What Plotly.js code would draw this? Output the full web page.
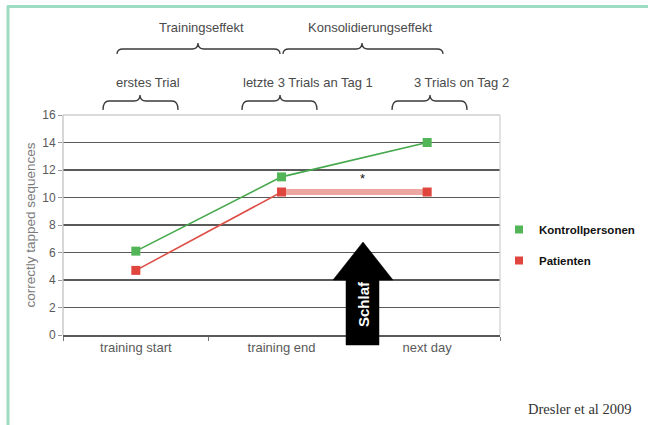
<!DOCTYPE html>
<html>
<head>
<meta charset="utf-8">
<script src="https://cdn.plot.ly/plotly-3.0.1.min.js"></script>
<style>
  html, body { margin: 0; padding: 0; background: #fff; }
  #chart { width: 648px; height: 425px; }
</style>
</head>
<body>
<div id="chart"></div>
<script>
// Sequence tapping performance, controls vs. patients
const phases = ['training start', 'training end', 'next day'];
const seriesNames = ['Kontrollpersonen', 'Patienten'];
const kontrollpersonen = [6.1, 11.5, 14.0];
const patienten = [4.7, 10.4, 10.4];
const yTicks = [0, 2, 4, 6, 8, 10, 12, 14, 16];

const W = 648, H = 425;
const M = { l: 63, r: 148, t: 115, b: 90, autoexpand: false };
const PW = W - M.l - M.r, PH = H - M.t - M.b;
// pixel position -> paper coordinates
const px = x => (x - M.l) / PW;
const py = y => (H - M.b - y) / PH;

const FONT = 'Liberation Sans, Arial, sans-serif';
const GREEN = '#45a84c', GREEN_M = '#52b557';
const RED = '#dd4f47', RED_M = '#e0463e', RED_PALE = '#eca7a1';

const traces = [
  {
    x: phases, y: kontrollpersonen, type: 'scatter', mode: 'lines+markers',
    line: { color: GREEN, width: 1.6 },
    marker: { color: GREEN_M, symbol: 'square', size: 9 },
    showlegend: false, hoverinfo: 'skip'
  },
  {
    x: phases, y: patienten, type: 'scatter', mode: 'lines',
    line: { color: RED, width: 1.6 },
    showlegend: false, hoverinfo: 'skip'
  },
  {
    // plateau of the patient group between training end and next day
    x: phases.slice(1), y: patienten.slice(1), type: 'scatter', mode: 'lines',
    line: { color: RED_PALE, width: 6 },
    showlegend: false, hoverinfo: 'skip'
  },
  {
    x: phases, y: patienten, type: 'scatter', mode: 'markers',
    marker: { color: RED_M, symbol: 'square', size: 9 },
    showlegend: false, hoverinfo: 'skip'
  },
  {
    x: [null], y: [null], type: 'scatter', mode: 'markers', name: seriesNames[0],
    legendgroup: 'a', marker: { color: GREEN_M, symbol: 'square', size: 8 }
  },
  {
    x: [null], y: [null], type: 'scatter', mode: 'markers', name: seriesNames[1],
    legendgroup: 'b', marker: { color: RED_M, symbol: 'square', size: 8 }
  }
];

// curly brace opening downwards: ends at yEnd, bar at yBar, peak at yPeak
function brace(x1, x2, xm, yPeak, yBar, yEnd) {
  const r = 6;
  const P = (x, y) => px(x).toFixed(4) + ',' + py(y).toFixed(4);
  return 'M' + P(x1, yEnd) +
    ' Q' + P(x1, yBar) + ' ' + P(x1 + r, yBar) +
    ' L' + P(xm - r, yBar) +
    ' Q' + P(xm, yBar) + ' ' + P(xm, yPeak) +
    ' Q' + P(xm, yBar) + ' ' + P(xm + r, yBar) +
    ' L' + P(x2 - r, yBar) +
    ' Q' + P(x2, yBar) + ' ' + P(x2, yEnd);
}

function poly(pts) {
  return 'M' + pts.map(p => px(p[0]).toFixed(4) + ',' + py(p[1]).toFixed(4)).join(' L') + ' Z';
}

const braceLine = { color: '#3a3a3a', width: 1.3 };
const shapes = [
  // outer frame
  { type: 'line', xref: 'paper', yref: 'paper', x0: px(8), x1: px(8), y0: py(6), y1: py(426),
    line: { color: '#9edcc4', width: 3 } },
  { type: 'line', xref: 'paper', yref: 'paper', x0: px(7), x1: px(649), y0: py(6.5), y1: py(6.5),
    line: { color: '#9edcc4', width: 3 } },
  // plot area border
  { type: 'line', xref: 'paper', yref: 'paper', x0: 0, x1: 1, y0: 1, y1: 1,
    line: { color: '#cfcfcf', width: 1.5 }, layer: 'above' },
  { type: 'line', xref: 'paper', yref: 'paper', x0: 1, x1: 1, y0: 0, y1: 1,
    line: { color: '#cfcfcf', width: 1.2 }, layer: 'above' },
  { type: 'line', xref: 'paper', yref: 'paper', x0: 0, x1: 0, y0: 0, y1: 1,
    line: { color: '#bdbdbd', width: 1.2 }, layer: 'above' },
  // braces
  { type: 'path', xref: 'paper', yref: 'paper', path: brace(117, 280, 198, 43, 49, 54), line: braceLine },
  { type: 'path', xref: 'paper', yref: 'paper', path: brace(283, 443, 362, 43, 49, 54), line: braceLine },
  { type: 'path', xref: 'paper', yref: 'paper', path: brace(103, 178, 140, 95, 101, 110), line: braceLine },
  { type: 'path', xref: 'paper', yref: 'paper', path: brace(242, 317, 280, 95, 101, 110), line: braceLine },
  { type: 'path', xref: 'paper', yref: 'paper', path: brace(392, 467, 430, 95, 101, 110), line: braceLine },
  // sleep arrow
  { type: 'path', xref: 'paper', yref: 'paper', layer: 'above',
    path: poly([[346, 345], [346, 280], [333, 280], [363, 242], [393, 280], [379, 280], [379, 345]]),
    fillcolor: '#000', line: { color: '#000', width: 0.5 } }
];

const textGray = '#4a4a4a';
const ann = (text, x, y, size, extra) => Object.assign({
  text: text, xref: 'paper', yref: 'paper', x: px(x), y: py(y),
  xanchor: 'center', yanchor: 'middle', showarrow: false,
  font: { family: FONT, size: size, color: textGray }
}, extra || {});

const annotations = [
  ann('Trainingseffekt', 201, 28, 13),
  ann('Konsolidierungseffekt', 370, 28, 13),
  ann('erstes Trial', 148, 83, 13),
  ann('letzte 3 Trials an Tag 1', 308, 83, 13),
  ann('3 Trials on Tag 2', 461, 83, 13),
  ann('*', 362, 178, 13, { font: { family: FONT, size: 13, color: '#111' } }),
  ann('<b>Schlaf</b>', 363, 304, 15, { textangle: -90, font: { family: FONT, size: 15, color: '#fff' } }),
  ann('Dresler et al 2009', 579, 409, 14.5, { font: { family: 'Liberation Serif, Times New Roman, serif', size: 14.5, color: '#333' } })
];

const layout = {
  width: W, height: H,
  margin: M,
  paper_bgcolor: '#fff', plot_bgcolor: '#fff',
  showlegend: true,
  legend: {
    x: px(499), y: py(215), xanchor: 'left', yanchor: 'top',
    tracegroupgap: 12, bgcolor: 'rgba(0,0,0,0)',
    font: { family: FONT, size: 11.5, color: '#111', weight: 'bold' }
  },
  xaxis: {
    type: 'category', range: [-0.5, 2.5],
    showgrid: false, zeroline: false,
    showline: true, linecolor: '#5a5a5a', linewidth: 1.5,
    ticks: 'outside', tickson: 'boundaries', ticklen: 4, tickcolor: '#777',
    tickfont: { family: FONT, size: 13, color: '#5a5a5a' },
    fixedrange: true
  },
  yaxis: {
    range: [0, 16], tickvals: yTicks, ticktext: yTicks.map(String),
    showgrid: true, gridcolor: '#5a5a5a', gridwidth: 1.4,
    zeroline: false, showline: false,
    ticks: 'outside', ticklen: 4, tickcolor: '#999',
    tickfont: { family: FONT, size: 12, color: '#5a5a5a' },
    title: { text: 'correctly tapped sequences', standoff: 3,
             font: { family: FONT, size: 13.5, color: '#7a7a7a' } },
    fixedrange: true
  },
  shapes: shapes,
  annotations: annotations
};

Plotly.newPlot('chart', traces, layout, { displayModeBar: false, staticPlot: true });
</script>
</body>
</html>
